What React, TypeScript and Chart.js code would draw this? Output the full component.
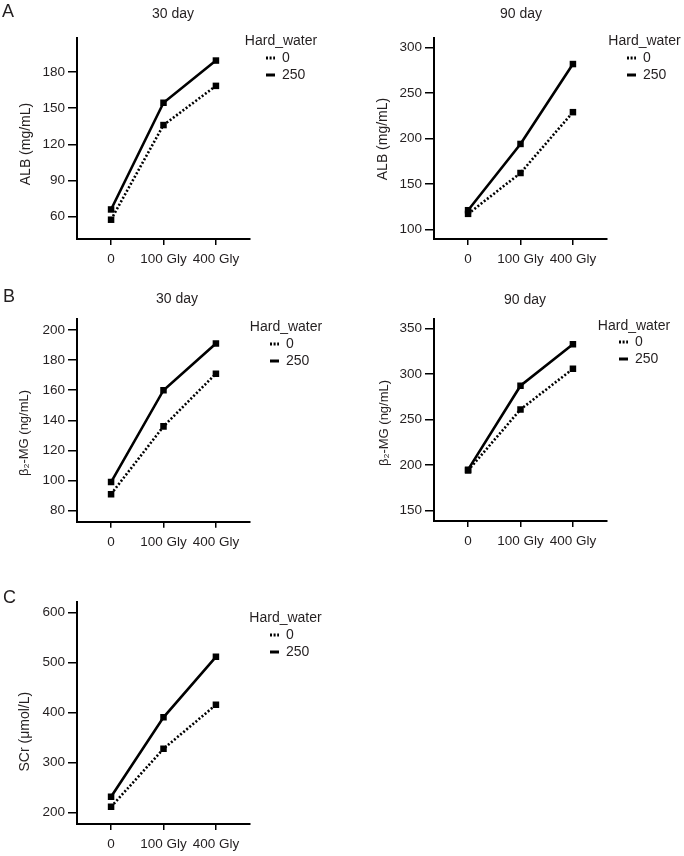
import React, { useEffect, useRef } from 'react';
import { Chart, registerables } from 'chart.js';

Chart.register(...registerables);

const FONT = "'Liberation Sans', Arial, Helvetica, sans-serif";
const INK = '#231f20';

// ---------- data ----------
const categories = ['0', '100 Gly', '400 Gly'];
const legendTitle = 'Hard_water';
const seriesNames = ['0', '250'];

const alb30Water0 = [57.5, 136, 168.5];
const alb30Water250 = [66, 154.5, 189.5];
const alb30Ticks = [60, 90, 120, 150, 180];

const alb90Water0 = [117, 162, 229];
const alb90Water250 = [121, 194, 282];
const alb90Ticks = [100, 150, 200, 250, 300];

const b2mg30Water0 = [91, 136, 171];
const b2mg30Water250 = [99, 160, 191];
const b2mg30Ticks = [80, 100, 120, 140, 160, 180, 200];

const b2mg90Water0 = [194, 261, 305.5];
const b2mg90Water250 = [195, 287, 332.5];
const b2mg90Ticks = [150, 200, 250, 300, 350];

const scrWater0 = [211, 327, 415];
const scrWater250 = [231, 390, 511];
const scrTicks = [200, 300, 400, 500, 600];

// ---------- layout (page pixel targets) ----------
type Spec = {
  title?: string;
  yTitle: string;
  yTitleSize: number;
  water0: number[];
  water250: number[];
  yTicks: number[];
  yMin: number;
  yMax: number;
  cx: number;
  area: { l: number; r: number; t: number; b: number };
  titleX?: number;
  titleY?: number;
  yTitleX: number;
  yTitleY: number;
  legX: number;
  legTitleX: number;
  legTitleY: number;
  legItemY: number;
};

const specs: Spec[] = [
  {
    title: '30 day', yTitle: 'ALB (mg/mL)', yTitleSize: 14,
    water0: alb30Water0, water250: alb30Water250, yTicks: alb30Ticks, yMin: 41.5, yMax: 208.2,
    cx: 0, area: { l: 77, r: 250, t: 38, b: 239 }, titleX: 173, titleY: 14,
    yTitleX: 26, yTitleY: 144, legX: 266, legTitleX: 281, legTitleY: 41, legItemY: 58,
  },
  {
    title: '90 day', yTitle: 'ALB (mg/mL)', yTitleSize: 14,
    water0: alb90Water0, water250: alb90Water250, yTicks: alb90Ticks, yMin: 89.3, yMax: 310.7,
    cx: 340, area: { l: 434, r: 607, t: 38, b: 239 }, titleX: 521, titleY: 14,
    yTitleX: 383, yTitleY: 139, legX: 627, legTitleX: 644.5, legTitleY: 41, legItemY: 58,
  },
  {
    title: '30 day', yTitle: 'β₂-MG (ng/mL)', yTitleSize: 13,
    water0: b2mg30Water0, water250: b2mg30Water250, yTicks: b2mg30Ticks, yMin: 72.7, yMax: 207.1,
    cx: 0, area: { l: 77, r: 250, t: 319.3, b: 521.7 }, titleX: 177, titleY: 299,
    yTitleX: 24, yTitleY: 433, legX: 270, legTitleX: 286, legTitleY: 326.7, legItemY: 344,
  },
  {
    title: '90 day', yTitle: 'β₂-MG (ng/mL)', yTitleSize: 13,
    water0: b2mg90Water0, water250: b2mg90Water250, yTicks: b2mg90Ticks, yMin: 138.7, yMax: 360.7,
    cx: 340, area: { l: 434, r: 607, t: 318.5, b: 521 }, titleX: 525, titleY: 300,
    yTitleX: 384, yTitleY: 423, legX: 619, legTitleX: 634, legTitleY: 325.7, legItemY: 342,
  },
  {
    yTitle: 'SCr (μmol/L)', yTitleSize: 14,
    water0: scrWater0, water250: scrWater250, yTicks: scrTicks, yMin: 176.6, yMax: 621.2,
    cx: 0, area: { l: 77, r: 250, t: 601.7, b: 824 },
    yTitleX: 25, yTitleY: 731.7, legX: 270, legTitleX: 285.5, legTitleY: 617.7, legItemY: 635,
  },
];

const panelLetters = [
  { text: 'A', x: 2, y: 2 },
  { text: 'B', x: 3, y: 287 },
  { text: 'C', x: 3, y: 588 },
];

function geometry(s: Spec) {
  const titleLH = 14 * 1.2;
  const hasTitle = !!s.title;
  const cy = hasTitle ? Math.floor((s.titleY as number) - titleLH / 2 - 1) : Math.floor(s.area.t - 40);
  const padTop = hasTitle ? 0 : s.area.t - cy;
  const titlePadTop = hasTitle ? (s.titleY as number) - titleLH / 2 - cy : 0;
  const titlePadBottom = hasTitle ? s.area.t - cy - titlePadTop - titleLH : 0;
  const hExact = 2 * (s.yTitleY - cy) - padTop;
  const ch = Math.ceil(hExact);
  const padBottom = ch - hExact;
  const xAxisH = cy + hExact - s.area.b;
  const yLH = s.yTitleSize * 1.2;
  const y0PadTop = s.yTitleX - s.cx - yLH / 2;
  const y0W = y0PadTop + yLH + 2;
  const yW = s.area.l - s.cx - y0W;
  const w2 = s.legX - 3 - s.area.r;
  const legLeft = s.area.r + w2;
  const legW = 2 * (s.legTitleX - legLeft);
  const legRight = legLeft + legW;
  const titleRight = hasTitle ? s.cx + 2 * ((s.titleX as number) - s.cx) : legRight;
  const outerRight = Math.max(titleRight, legLeft + 70);
  const w3 = Math.max(0, outerRight - legRight);
  const innerW = legRight + w3 - s.cx;
  const cw = Math.ceil(innerW);
  const padRight = cw - innerW;
  const legTop = cy + padTop;
  const legTitlePadTop = s.legTitleY - legTop - 7;
  const legTitlePadBottom = s.legItemY - legTop - legTitlePadTop - 14 - 3 - 7;
  return {
    cy, ch, cw, padTop, padBottom, padRight, titlePadTop, titlePadBottom, xAxisH,
    y0PadTop, y0W, yW, w2, legW, w3, legTitlePadTop, legTitlePadBottom,
  };
}

// The legend title is centred over the item column and is wider than it;
// draw the legend without clipping it to its own narrow box.
const legendNoClip = {
  id: 'legendNoClip',
  afterLayout(chart: any) {
    const lg = chart.legend;
    if (lg && !lg.__noClip) {
      lg.__noClip = true;
      lg.draw = function () {
        if (this.options.display) this._draw();
      };
    }
  },
};

function Panel({ s }: { s: Spec }) {
  const ref = useRef<HTMLCanvasElement>(null);
  const g = geometry(s);

  useEffect(() => {
    if (!ref.current) return;
    Chart.defaults.font.family = FONT;
    const toPoints = (arr: number[]) => arr.map((v, i) => ({ x: i, y: v }));
    const hidden = { display: false };
    const common = {
      borderColor: '#000',
      backgroundColor: '#000',
      borderWidth: 2.6,
      borderCapStyle: 'butt',
      pointStyle: 'rect',
      pointRadius: 4.6,
      pointBorderWidth: 0,
      pointBackgroundColor: '#000',
      tension: 0,
    };
    const chart = new Chart(ref.current, {
      type: 'line',
      data: {
        datasets: [
          { ...common, label: seriesNames[0], data: toPoints(s.water0), borderDash: [2, 2] },
          { ...common, label: seriesNames[1], data: toPoints(s.water250) },
        ],
      },
      plugins: [legendNoClip],
      options: {
        responsive: false,
        devicePixelRatio: 1,
        animation: false,
        events: [],
        layout: { padding: { left: 0, top: g.padTop, right: g.padRight, bottom: g.padBottom } },
        scales: {
          x: {
            type: 'linear',
            position: 'bottom',
            min: -0.65,
            max: 2.65,
            afterBuildTicks: (sc: any) => { sc.ticks = categories.map((_, i) => ({ value: i })); },
            afterFit: (sc: any) => { sc.height = g.xAxisH; },
            ticks: {
              callback: (v: any) => categories[Math.round(Number(v))] ?? '',
              autoSkip: false,
              maxRotation: 0,
              padding: 6,
              font: { size: 13.5 },
              color: INK,
            },
            grid: { display: true, drawOnChartArea: false, drawTicks: true, tickLength: 6, color: '#000', lineWidth: 1.5 },
            border: { display: true, color: '#000', width: 2 },
          },
          y: {
            type: 'linear',
            position: 'left',
            weight: 0,
            min: s.yMin,
            max: s.yMax,
            afterBuildTicks: (sc: any) => { sc.ticks = s.yTicks.map((v) => ({ value: v })); },
            afterFit: (sc: any) => { sc.width = g.yW; },
            ticks: { autoSkip: false, padding: 3, font: { size: 13.5 }, color: INK },
            grid: { display: true, drawOnChartArea: false, drawTicks: true, tickLength: 9, color: '#000', lineWidth: 1.5 },
            border: { display: true, color: '#000', width: 2 },
          },
          yLabel: {
            type: 'linear',
            axis: 'y',
            position: 'left',
            fullSize: true,
            weight: 10,
            min: 0,
            max: 1,
            afterFit: (sc: any) => { sc.width = g.y0W; },
            ticks: hidden,
            grid: hidden,
            border: hidden,
            title: {
              display: true,
              text: s.yTitle,
              color: INK,
              font: { size: s.yTitleSize },
              padding: { top: g.y0PadTop, bottom: 0 },
            },
          },
          yGap: {
            type: 'linear',
            axis: 'y',
            position: 'right',
            weight: 0,
            min: 0,
            max: 1,
            afterFit: (sc: any) => { sc.width = g.w2; },
            ticks: hidden,
            grid: hidden,
            border: hidden,
          },
          yOuter: {
            type: 'linear',
            axis: 'y',
            position: 'right',
            weight: 2000,
            min: 0,
            max: 1,
            afterFit: (sc: any) => { sc.width = g.w3; },
            ticks: hidden,
            grid: hidden,
            border: hidden,
          },
        } as any,
        plugins: {
          tooltip: { enabled: false },
          title: {
            display: !!s.title,
            text: s.title ?? '',
            align: 'center',
            fullSize: true,
            color: INK,
            font: { size: 14, weight: 'normal', lineHeight: 1.2 },
            padding: { top: g.titlePadTop, bottom: g.titlePadBottom },
          },
          legend: {
            display: true,
            position: 'right',
            align: 'start',
            fullSize: true,
            maxWidth: g.legW,
            labels: {
              usePointStyle: true,
              pointStyleWidth: 9,
              boxHeight: 14,
              padding: 3,
              color: INK,
              font: { size: 14 },
              generateLabels: () =>
                seriesNames.map((n, i) => ({
                  text: n,
                  fillStyle: '#000',
                  strokeStyle: '#000',
                  lineWidth: 3,
                  lineDash: i === 0 ? [2, 1.6] : [],
                  lineCap: 'butt',
                  pointStyle: 'line',
                  hidden: false,
                  datasetIndex: i,
                  fontColor: INK,
                })) as any,
            },
            title: {
              display: true,
              text: legendTitle,
              color: INK,
              font: { size: 14, lineHeight: 1 },
              padding: { top: g.legTitlePadTop, bottom: g.legTitlePadBottom },
            },
          },
        },
      } as any,
    });
    return () => chart.destroy();
  }, []);

  return (
    <canvas
      ref={ref}
      width={g.cw}
      height={g.ch}
      style={{ position: 'absolute', left: s.cx, top: g.cy, width: g.cw, height: g.ch }}
    />
  );
}

export default function App() {
  return (
    <div
      style={{
        position: 'absolute',
        left: 0,
        top: 0,
        width: 684,
        height: 856,
        overflow: 'hidden',
        background: '#fff',
        fontFamily: FONT,
      }}
    >
      {specs.map((s, i) => (
        <Panel key={i} s={s} />
      ))}
      {panelLetters.map((l) => (
        <div
          key={l.text}
          style={{
            position: 'absolute',
            left: l.x,
            top: l.y,
            fontSize: 18,
            lineHeight: 1,
            color: INK,
          }}
        >
          {l.text}
        </div>
      ))}
    </div>
  );
}
